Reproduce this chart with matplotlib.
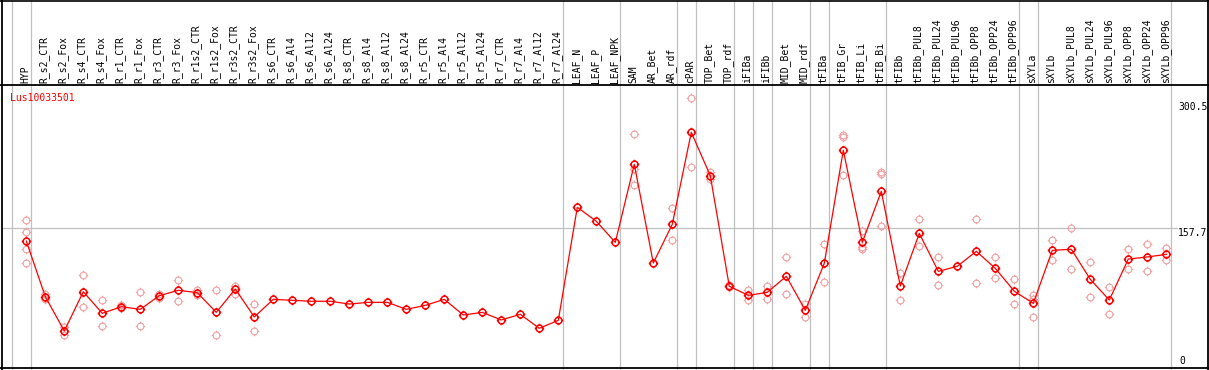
import matplotlib
matplotlib.use("Agg")
import matplotlib.pyplot as plt
from matplotlib.path import Path

# sample names, mean expression and replicate values
samples = ["HYP", "R_s2_CTR", "R_s2_Fox", "R_s4_CTR", "R_s4_Fox", "R_r1_CTR", "R_r1_Fox",
           "R_r3_CTR", "R_r3_Fox", "R_r1s2_CTR", "R_r1s2_Fox", "R_r3s2_CTR", "R_r3s2_Fox",
           "R_s6_CTR", "R_s6_Al4", "R_s6_Al12", "R_s6_Al24", "R_s8_CTR", "R_s8_Al4",
           "R_s8_Al12", "R_s8_Al24", "R_r5_CTR", "R_r5_Al4", "R_r5_Al12", "R_r5_Al24",
           "R_r7_CTR", "R_r7_Al4", "R_r7_Al12", "R_r7_Al24", "LEAF_N", "LEAF_P", "LEAF_NPK",
           "SAM", "AR_Bet", "AR_rdf", "cPAR", "TOP_Bet", "TOP_rdf", "iFIBa", "iFIBb",
           "MID_Bet", "MID_rdf", "tFIBa", "tFIB_Gr", "tFIB_Li", "tFIB_Bi", "tFIBb",
           "tFIBb_PUL8", "tFIBb_PUL24", "tFIBb_PUL96", "tFIBb_OPP8", "tFIBb_OPP24",
           "tFIBb_OPP96", "sXYLa", "sXYLb", "sXYLb_PUL8", "sXYLb_PUL24", "sXYLb_PUL96",
           "sXYLb_OPP8", "sXYLb_OPP24", "sXYLb_OPP96"]

means = [143.3, 80.5, 41.8, 86.1, 61.7, 69.2, 66.2, 81.6, 87.7, 85.0, 62.8, 89.2, 57.6,
         77.5, 76.4, 75.3, 75.3, 72.2, 74.1, 74.1, 66.2, 70.7, 77.5, 59.8, 62.8,
         54.2, 60.6, 44.8, 53.8, 181.4, 165.6, 141.8,
         229.9, 118.5, 162.2, 266.0, 217.0, 92.2, 82.0, 85.4,
         103.5, 65.1, 118.2, 245.7, 141.8, 199.4, 92.5,
         152.0, 109.1, 114.8, 131.7, 112.5,
         86.6, 73.0, 132.8, 134.0, 100.1, 76.7,
         123.0, 125.3, 128.3]

replicates = [[167, 153, 134, 118], [83, 78], [46.6, 37.2], [104.6, 68.5], [76.4, 47],
              [70.7, 67.7], [85.4, 47], [83.9, 79.4], [99, 75.3], [88, 82], [87.7, 36.9],
              [92.9, 83], [71.8, 41.8],
              [], [], [], [], [], [], [], [], [], [], [], [], [], [], [], [],
              [], [], [],
              [264.1, 224.2, 206.2], [], [180.6, 144.1], [304.4, 226.5], [221.6, 213.7],
              [93.6, 91], [88, 76.4], [92.5, 77.9],
              [125.3, 83], [72.2, 57.9], [140, 97.1], [261.1, 262.5, 217.5], [155, 134, 137],
              [219.3, 221, 159.9], [106.9, 76.7],
              [167.8, 137.4], [125.3, 93.3], [], [167.8, 95.6], [125.3, 101.2],
              [100.1, 71.9], [82.7, 78, 57.2], [144.1, 121.5], [157.7, 111.4], [119.3, 79.8],
              [91, 60.6], [134.3, 111.4], [139.6, 109.1], [135.4, 121.9]]

# group separators sit just right of these sample indices
separators = [-1, 0, 28, 31, 34, 35, 37, 38, 39, 41, 42, 45, 52, 53, 60]
gene = "Lus10033501"
y_labels = [300.5, 157.7]

W, H = 1209, 370
fig = plt.figure(figsize=(W / 100, H / 100), dpi=100)
ax = fig.add_axes([0, 0, 1, 1])
ax.axis("off")

# pixel layout: column i at x = 26.3 + 19 i, value v at y(from top) = 368 - 0.886 v
ax.set_xlim(-26.3 / 19, (W - 26.3) / 19)
ax.set_ylim(-2 / 0.886, 368 / 0.886)

def px_x(p):
    return (p - 26.3) / 19

def px_y(p):
    return (368 - p) / 0.886

grid_c = "#c0c0c0"
for s in separators:
    ax.axvline(s + 0.23, color=grid_c, lw=0.9, zorder=1)
ax.axhline(157.7, xmin=2 / W, xmax=1177 / W, color=grid_c, lw=0.9, zorder=1)

# borders
ax.axhline(px_y(85), color="black", lw=1.3, zorder=5)
ax.axhline(0, color="black", lw=1.3, zorder=5)
ax.axhline(px_y(0.5), color="black", lw=1.2, zorder=5)
ax.axvline(px_x(1.5), color="black", lw=1.3, zorder=5)
ax.axvline(px_x(1207.8), color="black", lw=1.3, zorder=5)

# circle marker with small ticks
circ = Path.unit_circle()
tick = 1.4
parts = [circ]
for a, b in [((0, 1), (0, tick)), ((0, -1), (0, -tick)), ((1, 0), (tick, 0)), ((-1, 0), (-tick, 0))]:
    parts.append(Path([a, b], [Path.MOVETO, Path.LINETO]))
mk = Path.make_compound_path(*parts)

rx, ry = [], []
for i, reps in enumerate(replicates):
    for r in reps:
        rx.append(i)
        ry.append(r)
ax.plot(rx, ry, ls="none", marker=mk, ms=6.8, mfc="none", mec="#f0a0a0", mew=0.8, zorder=2)

xs = list(range(len(samples)))
ax.plot(xs, means, color="#ff0000", lw=0.9, marker=mk, ms=6.8, mfc="none",
        mec="#ff0000", mew=1.1, zorder=3)

mono = "DejaVu Sans Mono"
for i, name in enumerate(samples):
    ax.text(i - 0.05, px_y(83), name, rotation=90, ha="center", va="bottom",
            fontsize=7, family=mono, color="black")

ax.text(px_x(10), px_y(98), gene, ha="left", va="center", fontsize=7, family=mono, color="#ff0000")

for v in y_labels:
    ax.text(px_x(1178), v, str(v), ha="left", va="top", fontsize=7, family=mono, color="black")
ax.text(px_x(1179), px_y(365.5), "0", ha="left", va="bottom", fontsize=7, family=mono, color="black")

fig.savefig("out.png", dpi=100)
